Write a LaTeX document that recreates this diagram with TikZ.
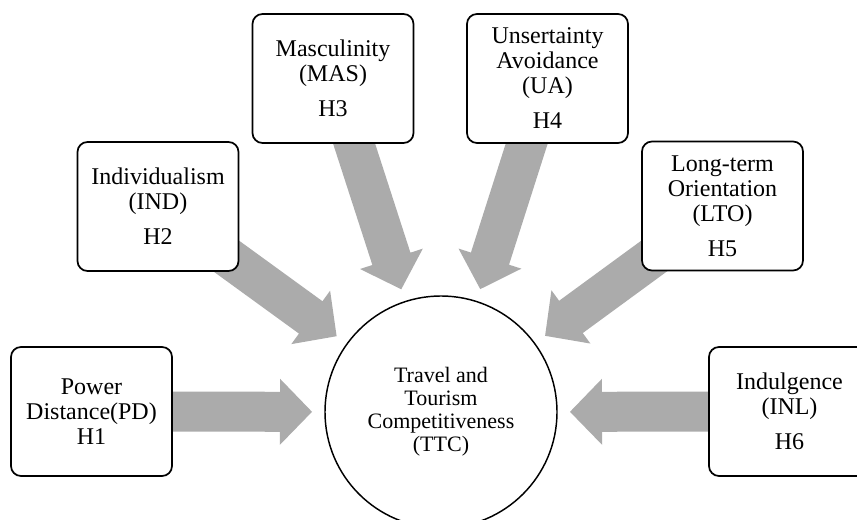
\documentclass[tikz,border=0pt]{standalone}
\usepackage{fontspec}
\setmainfont{Liberation Serif}
\usetikzlibrary{calc,backgrounds}
\definecolor{arrowgray}{RGB}{171,171,171}
\tikzset{
  factorbox/.style={draw=black, line width=1.3pt, rounded corners=7.5pt, fill=white,
    minimum width=120.75pt, minimum height=96.75pt, inner sep=0pt, align=center,
    font=\fontsize{18}{18.75}\selectfont},
  centrecircle/.style={draw=black, line width=1.1pt, circle, fill=white,
    minimum size=174pt, inner sep=0pt, align=center,
    font=\fontsize{16.5}{17.25}\selectfont},
  blockarrow/.style={fill=arrowgray, draw=none}
}
\begin{document}
\begin{tikzpicture}[x=0.75pt, y=-0.75pt]
\useasboundingbox (0,0) rectangle (857,520);
% centre
\node[centrecircle] (ttc) at (441,412) {Travel and\\Tourism\\Competitiveness\\(TTC)};
% factor boxes
\node[factorbox] (pd)  at (91.5,411.5) {Power\\Distance(PD)\\H1};
\node[factorbox] (ind) at (158,206.5)  {Individualism\\(IND)\\[7.5pt]H2};
\node[factorbox] (mas) at (333,78.5)   {Masculinity\\(MAS)\\[7.5pt]H3};
\node[factorbox] (ua)  at (547.5,78.5) {Unsertainty\\Avoidance\\(UA)\\[7.5pt]H4};
\node[factorbox] (lto) at (722.5,206)  {Long-term\\Orientation\\(LTO)\\[7.5pt]H5};
\node[factorbox] (inl) at (789.5,411.5){Indulgence\\(INL)\\[7.5pt]H6};
% block arrows
\begin{pgfonlayer}{background}
\fill[white] (0,0) rectangle (857,520);
\foreach \b in {pd,ind,mas,ua,lto,inl}{
  \coordinate (tip) at ($(ttc.center)!96.75pt!(\b.center)$);
  \coordinate (hb)  at ($(ttc.center)!120.75pt!(\b.center)$);
  \fill[blockarrow]
    ($(\b.center)!15pt!90:(ttc.center)$) --
    ($(hb)!15pt!90:(ttc.center)$) --
    ($(hb)!24.75pt!90:(ttc.center)$) --
    (tip) --
    ($(hb)!24.75pt!-90:(ttc.center)$) --
    ($(hb)!15pt!-90:(ttc.center)$) --
    ($(\b.center)!15pt!-90:(ttc.center)$) -- cycle;
}
\end{pgfonlayer}
\end{tikzpicture}
\end{document}
